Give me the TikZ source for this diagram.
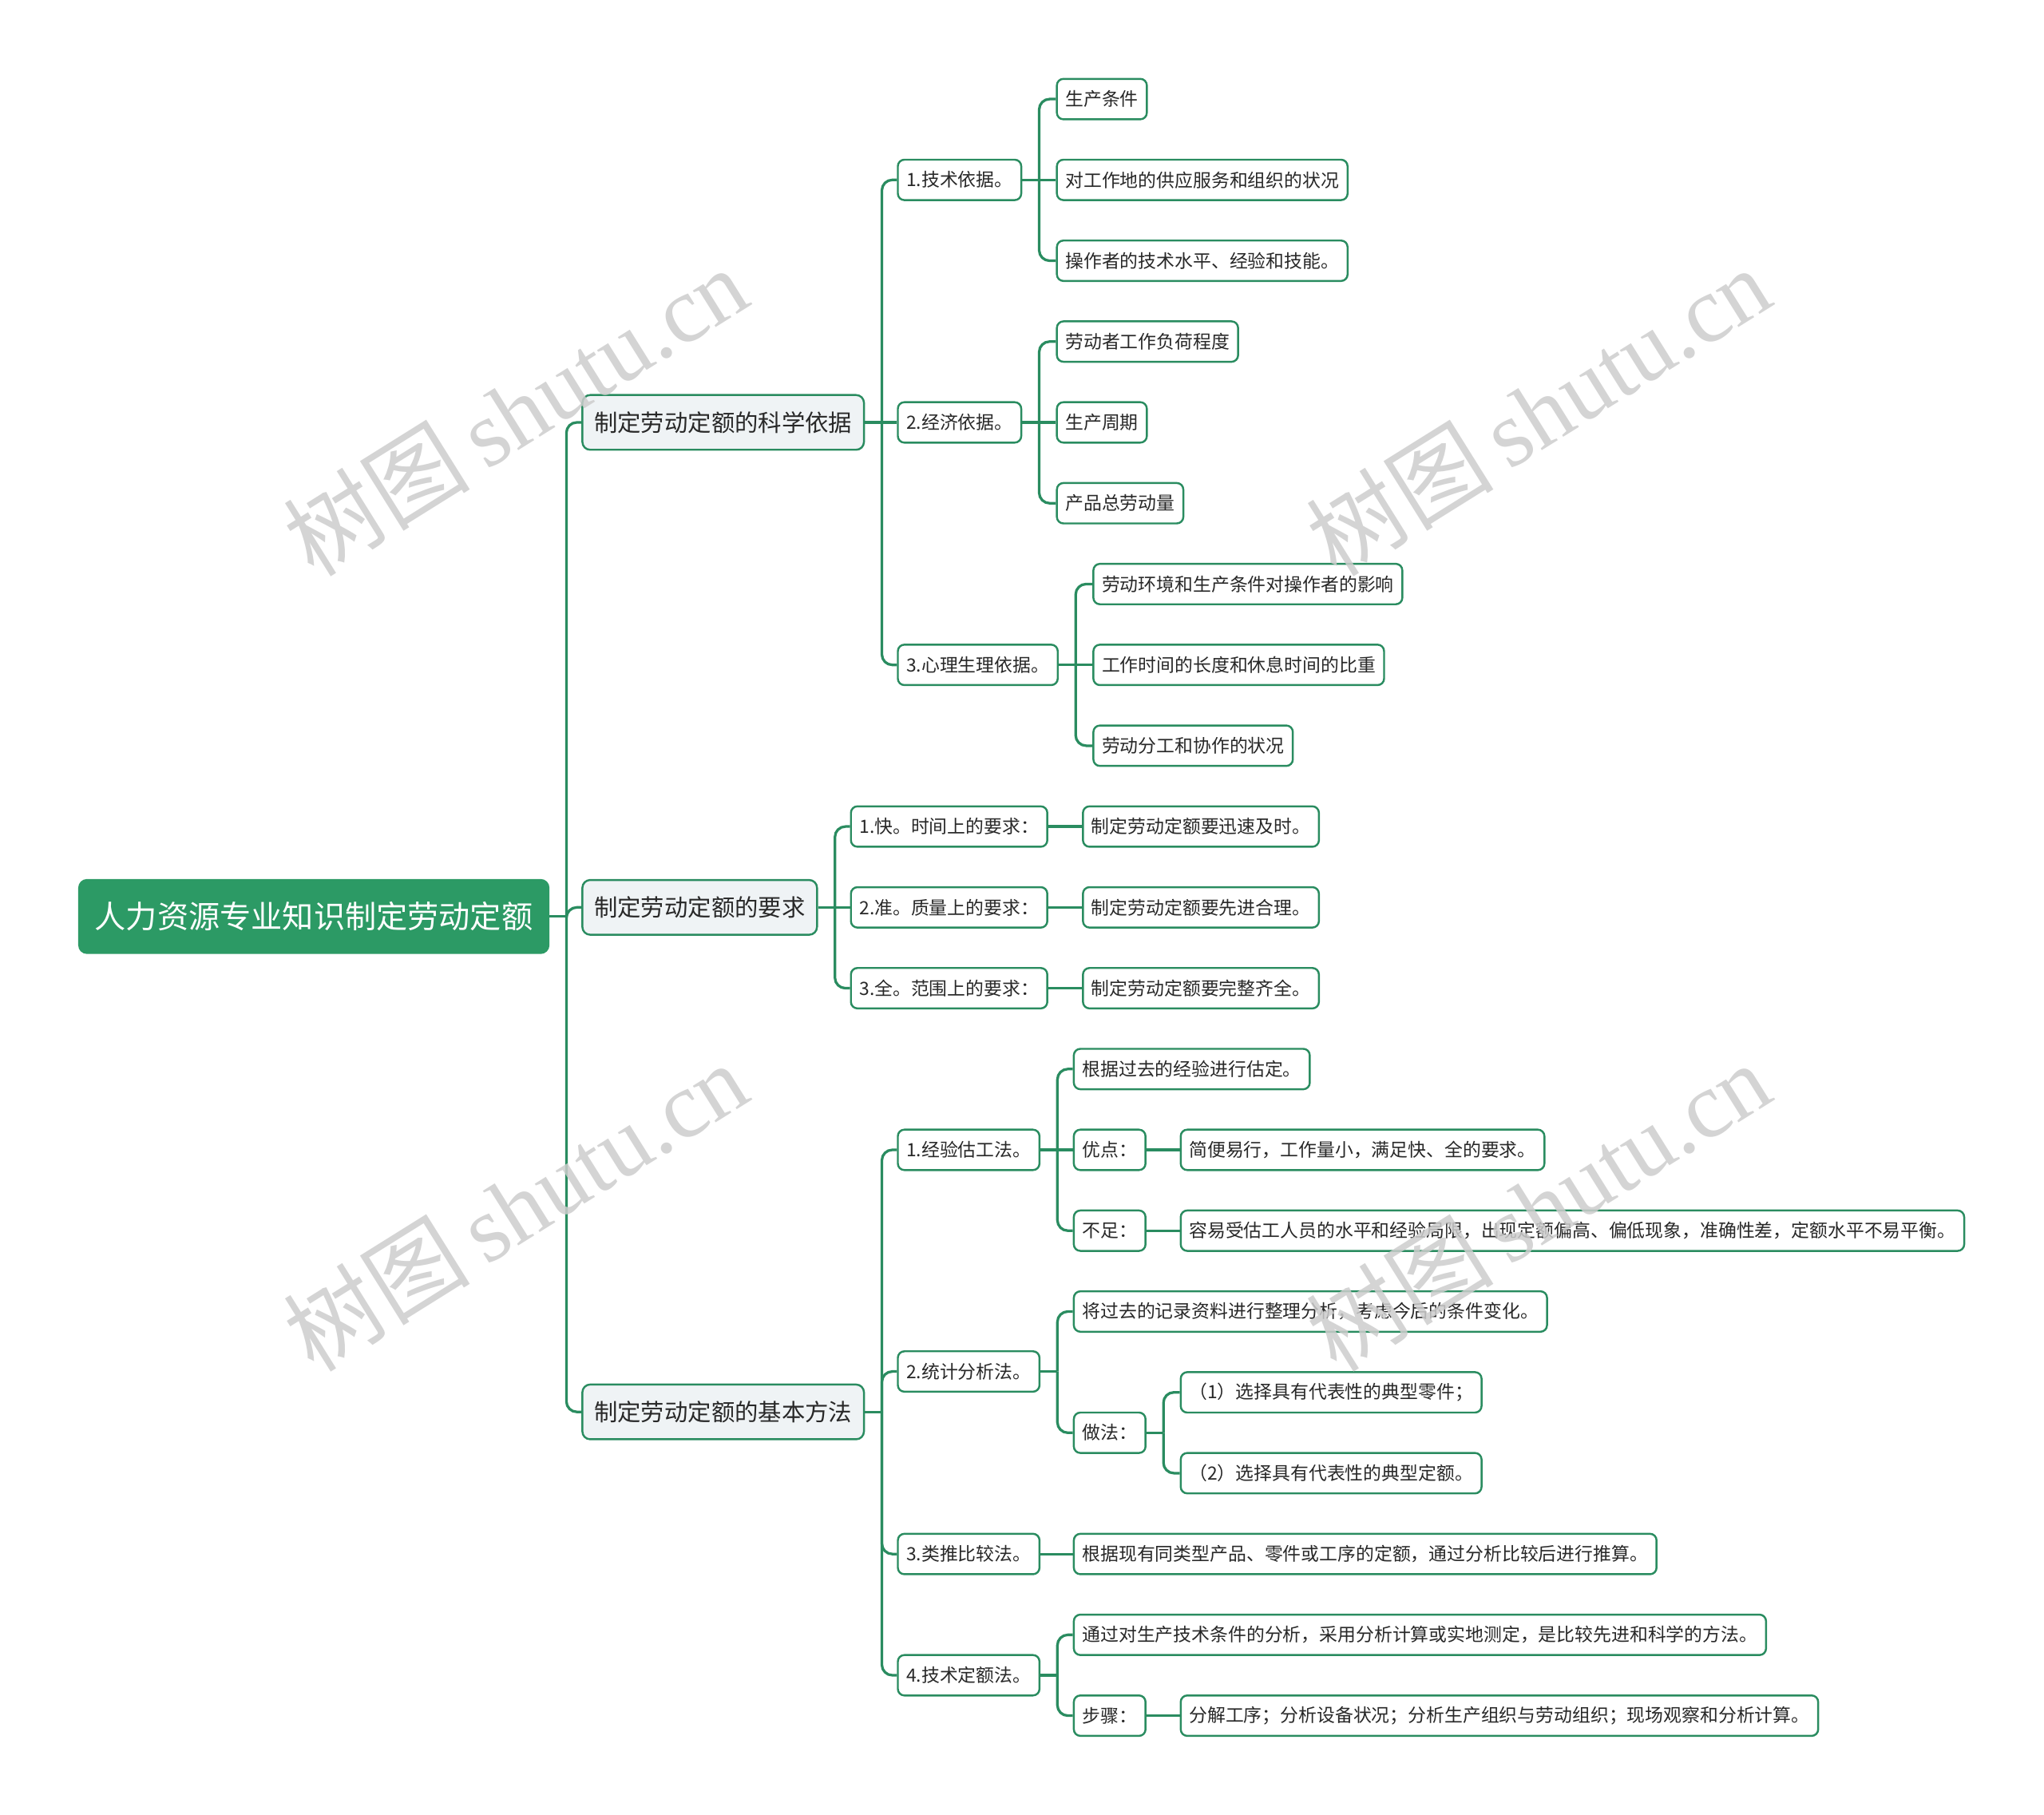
\documentclass[tikz,border=0pt]{standalone}
\usepackage{fontspec}
\setmainfont{Noto Sans CJK SC}
\newfontfamily\wmlat{Liberation Serif}
\newfontfamily\wmcjk{Noto Sans CJK SC}
\definecolor{lc}{RGB}{42,140,96}
\definecolor{rootc}{RGB}{44,154,101}
\definecolor{lonefill}{RGB}{239,243,245}
\definecolor{wm}{RGB}{205,205,205}
\definecolor{tx}{RGB}{40,40,40}
\tikzset{
 base/.style={draw=lc, line width=0.75pt, anchor=west, text=tx, inner ysep=0pt},
 rootbox/.style={base, fill=rootc, draw=rootc, text=white, font=\fontsize{12}{12}\selectfont, rounded corners=3pt, minimum height=28pt, inner xsep=6pt},
 lone/.style={base, fill=lonefill, font=\fontsize{9}{9}\selectfont, rounded corners=3pt, minimum height=21pt, inner xsep=4.5pt},
 leaf/.style={base, fill=white, font=\fontsize{7}{7}\selectfont, rounded corners=2.5pt, minimum height=15.5pt, inner xsep=3.25pt},
 conn/.style={draw=lc, line width=1pt, rounded corners=4pt},
 straightconn/.style={draw=lc, line width=1pt},
 wmark/.style={text=wm, opacity=0.85, rotate=32, inner sep=0pt}
}
% #1 parent, #2 children above/below (bent), #3 child at the same height (straight)
\newcommand\mmlink[3]{%
  \draw[straightconn] (#1.east) -- ++(13,0) coordinate (#1j);
  \foreach \cc in {#2} {\draw[conn] (#1j) |- (\cc.west);}
  \foreach \cc in {#3} {\draw[straightconn] (#1j) -- (\cc.west);}
}
\begin{document}
\begin{tikzpicture}[x=0.5pt,y=-0.5pt]
\useasboundingbox (0,0) rectangle (1568,1392);
% root and level 1
\node[rootbox] (root) at (60,703) {人力资源专业知识制定劳动定额};
\node[lone] (a) at (446,324) {制定劳动定额的科学依据};
\node[lone] (b) at (446,696) {制定劳动定额的要求};
\node[lone] (c) at (446,1083) {制定劳动定额的基本方法};
% branch a
\node[leaf] (a1) at (688,138) {1.技术依据。};
\node[leaf] (a2) at (688,324) {2.经济依据。};
\node[leaf] (a3) at (688,510) {3.心理生理依据。};
\node[leaf] (a11) at (810,76) {生产条件};
\node[leaf] (a12) at (810,138) {对工作地的供应服务和组织的状况};
\node[leaf] (a13) at (810,200) {操作者的技术水平、经验和技能。};
\node[leaf] (a21) at (810,262) {劳动者工作负荷程度};
\node[leaf] (a22) at (810,324) {生产周期};
\node[leaf] (a23) at (810,386) {产品总劳动量};
\node[leaf] (a31) at (838,448) {劳动环境和生产条件对操作者的影响};
\node[leaf] (a32) at (838,510) {工作时间的长度和休息时间的比重};
\node[leaf] (a33) at (838,572) {劳动分工和协作的状况};
% branch b
\node[leaf] (b1) at (652,634) {1.快。时间上的要求：};
\node[leaf] (b2) at (652,696) {2.准。质量上的要求：};
\node[leaf] (b3) at (652,758) {3.全。范围上的要求：};
\node[leaf] (b1a) at (830,634) {制定劳动定额要迅速及时。};
\node[leaf] (b2a) at (830,696) {制定劳动定额要先进合理。};
\node[leaf] (b3a) at (830,758) {制定劳动定额要完整齐全。};
% branch c
\node[leaf] (c1) at (688,882) {1.经验估工法。};
\node[leaf] (c2) at (688,1052) {2.统计分析法。};
\node[leaf] (c3) at (688,1192) {3.类推比较法。};
\node[leaf] (c4) at (688,1285) {4.技术定额法。};
\node[leaf] (c11) at (823,820) {根据过去的经验进行估定。};
\node[leaf] (c12) at (823,882) {优点：};
\node[leaf] (c13) at (823,944) {不足：};
\node[leaf] (c12a) at (905,882) {简便易行，工作量小，满足快、全的要求。};
\node[leaf] (c13a) at (905,944) {容易受估工人员的水平和经验局限，出现定额偏高、偏低现象，准确性差，定额水平不易平衡。};
\node[leaf] (c21) at (823,1006) {将过去的记录资料进行整理分析，考虑今后的条件变化。};
\node[leaf] (c22) at (823,1099) {做法：};
\node[leaf] (c221) at (905,1068) {（1）选择具有代表性的典型零件；};
\node[leaf] (c222) at (905,1130) {（2）选择具有代表性的典型定额。};
\node[leaf] (c3a) at (823,1192) {根据现有同类型产品、零件或工序的定额，通过分析比较后进行推算。};
\node[leaf] (c41) at (823,1254) {通过对生产技术条件的分析，采用分析计算或实地测定，是比较先进和科学的方法。};
\node[leaf] (c42) at (823,1316) {步骤：};
\node[leaf] (c42a) at (905,1316) {分解工序；分析设备状况；分析生产组织与劳动组织；现场观察和分析计算。};
% connectors
\mmlink{root}{a,b,c}{}
\mmlink{a}{a1,a3}{a2}
\mmlink{a1}{a11,a13}{a12}
\mmlink{a2}{a21,a23}{a22}
\mmlink{a3}{a31,a33}{a32}
\mmlink{b}{b1,b3}{b2}
\mmlink{b1}{}{b1a}
\mmlink{b2}{}{b2a}
\mmlink{b3}{}{b3a}
\mmlink{c}{c1,c2,c3,c4}{}
\mmlink{c1}{c11,c13}{c12}
\mmlink{c12}{}{c12a}
\mmlink{c13}{}{c13a}
\mmlink{c2}{c21,c22}{}
\mmlink{c22}{c221,c222}{}
\mmlink{c3}{}{c3a}
\mmlink{c4}{c41,c42}{}
\mmlink{c42}{}{c42a}
% watermarks
\foreach \wx/\wy [count=\i] in {395/315, 1180/315, 395/925, 1180/925} {
  \node[wmark] (wm\i) at (\wx,\wy) {\fontsize{36}{36}\selectfont\wmcjk 树图\,\wmlat shutu.cn};
}
\end{tikzpicture}
\end{document}
